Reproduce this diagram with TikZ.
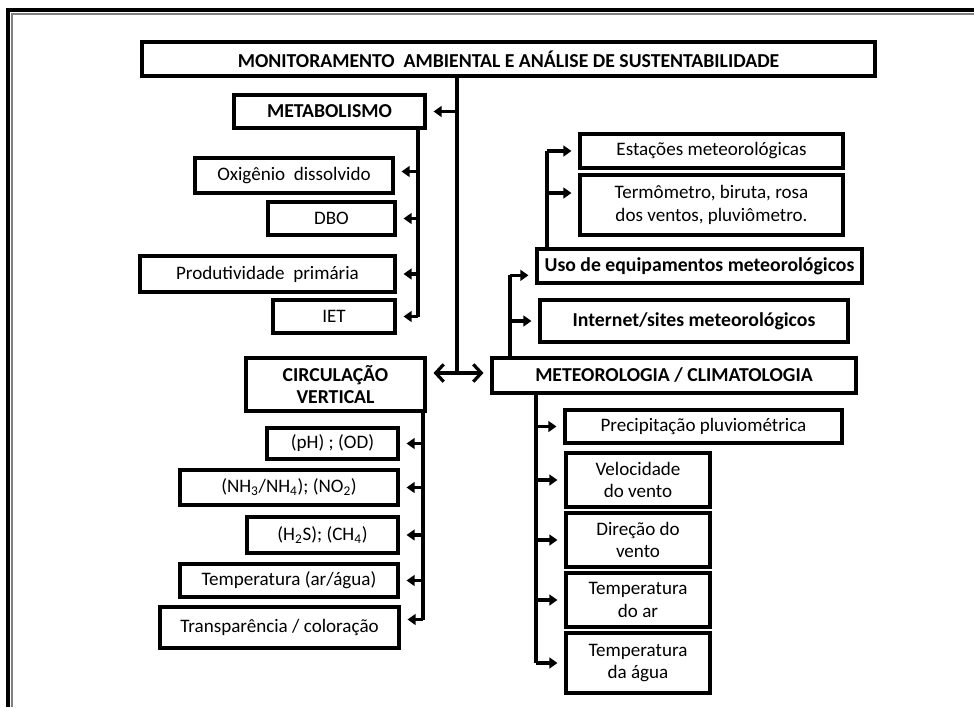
\documentclass[tikz,border=0pt]{standalone}
\usepackage{fontspec}
\setmainfont{Carlito}
\usetikzlibrary{arrows.meta,calc}
\tikzset{
  box/.style={draw, line width=2.8pt, inner sep=1pt, align=center, fill=white,
    font=\fontsize{14.3}{16.8}\selectfont},
  bbox/.style={box, font=\fontsize{14.8}{17}\selectfont\bfseries},
  conn/.style={line width=2.6pt},
  arr/.style={conn, -{Triangle[length=6pt,width=8pt]}, shorten >=5pt},
  darr/.style={conn, {Straight Barb[length=6pt,width=13pt,line width=2.4pt]}-{Straight Barb[length=6pt,width=13pt,line width=2.4pt]}, shorten >=5pt, shorten <=5pt}
}
\newcommand{\mybox}[7][]{%
  \node[box,#1,minimum width={(#5-#3)*0.75pt},minimum height={(#6-#4)*0.75pt}] (#2) at ({(#3+#5)/2},{(#4+#6)/2}) {#7};}
\begin{document}
\begin{tikzpicture}[x=0.75pt,y=-0.75pt]
\useasboundingbox (0,0) rectangle (974,707);
% frame
\draw[line width=2.6pt] (8,707) -- (8,10) -- (974,10);
\draw[line width=1.2pt, gray] (11.8,707) -- (11.8,13.8) -- (974,13.8);

% boxes
\mybox[bbox]{title}{142}{42}{875}{76}{MONITORAMENTO\ \ AMBIENTAL E ANÁLISE DE SUSTENTABILIDADE}
\mybox[bbox]{meta}{234}{95}{425}{128}{METABOLISMO}
\mybox{oxi}{195}{158}{393}{193}{Oxigênio\ \ dissolvido}
\mybox{dbo}{268}{202}{395}{235}{DBO}
\mybox{prod}{140}{256}{395}{292}{Produtividade\ \ primária}
\mybox{iet}{273}{300}{395}{333}{IET}

\mybox[bbox]{circ}{246}{358}{425}{411}{CIRCULAÇÃO\\VERTICAL}
\mybox{ph}{267}{428}{398}{459}{(pH) ; (OD)}
\mybox{nh}{180}{470}{398}{505}{(NH\textsubscript{3}/NH\textsubscript{4}); (NO\textsubscript{2})}
\mybox{hs}{247}{517}{398}{553}{(H\textsubscript{2}S); (CH\textsubscript{4})}
\mybox{temp}{180}{564}{398}{597}{Temperatura (ar/água)}
\mybox{transp}{160}{607}{399}{648}{Transparência / coloração}

\mybox[bbox]{meteo}{492}{358}{856}{393}{METEOROLOGIA / CLIMATOLOGIA}
\mybox[bbox]{net}{540}{300}{848}{342}{Internet/sites meteorológicos}
\mybox[bbox]{uso}{537}{249}{862}{283}{Uso de equipamentos meteorológicos}
\mybox{est}{580}{134}{843}{168}{Estações meteorológicas}
\mybox{term}{580}{175}{843}{235}{Termômetro, biruta, rosa\\dos ventos, pluviômetro.}

\mybox{prec}{565}{410}{842}{443}{Precipitação pluviométrica}
\mybox{vel}{566}{453}{710}{507}{Velocidade\\do vento}
\mybox{dir}{566}{513}{710}{567}{Direção do\\vento}
\mybox{tar}{566}{573}{710}{627}{Temperatura\\do ar}
\mybox{tag}{566}{633}{710}{693}{Temperatura\\da água}

% main trunk
\coordinate (tr) at (457,76);
\coordinate (trb) at (457,373);
\draw[conn] (tr) -- (trb);
\draw[arr] (tr |- meta.east) -- (meta.east);
\draw[darr] (circ.east |- trb) -- (meteo.west |- trb);

% metabolism branch
\coordinate (mt) at (418,128);
\draw[conn] (mt) -- (mt |- iet.east);
\draw[arr] (mt |- iet.east) -- (iet.east);
\draw[arr] ([yshift=3pt]mt |- oxi.east) -- ([yshift=3pt]oxi.east);
\draw[arr] (mt |- dbo.east) -- (dbo.east);
\draw[arr] (mt |- prod.east) -- (prod.east);

% circulation branch
\coordinate (ct) at (423,411);
\draw[conn] (ct) -- ([yshift=6pt]ct |- transp.east);
\draw[arr] ([yshift=6pt]ct |- transp.east) -- ([yshift=6pt]transp.east);
\draw[arr] (ct |- ph.east) -- (ph.east);
\draw[arr] (ct |- nh.east) -- (nh.east);
\draw[arr] (ct |- hs.east) -- (hs.east);
\draw[arr] (ct |- temp.east) -- (temp.east);

% meteorology branch down
\coordinate (mtd) at (536,393);
\draw[conn] (mtd) -- (mtd |- tag.west);
\draw[arr] (mtd |- tag.west) -- (tag.west);
\draw[arr] (mtd |- prec.west) -- (prec.west);
\draw[arr] (mtd |- vel.west) -- (vel.west);
\draw[arr] (mtd |- dir.west) -- (dir.west);
\draw[arr] (mtd |- tar.west) -- (tar.west);

% meteorology branch up
\coordinate (mtu) at (510,358);
\draw[conn] (mtu) -- ([yshift=-7pt]mtu |- uso.west);
\draw[arr] ([yshift=-7pt]mtu |- uso.west) -- ([yshift=-7pt]uso.west);
\draw[arr] (mtu |- net.west) -- (net.west);

% equipment branch
\coordinate (ut) at (547,249);
\draw[conn] (ut) -- (ut |- est.west);
\draw[arr] (ut |- est.west) -- (est.west);
\draw[arr] ([yshift=9pt]ut |- term.west) -- ([yshift=9pt]term.west);
\end{tikzpicture}
\end{document}
